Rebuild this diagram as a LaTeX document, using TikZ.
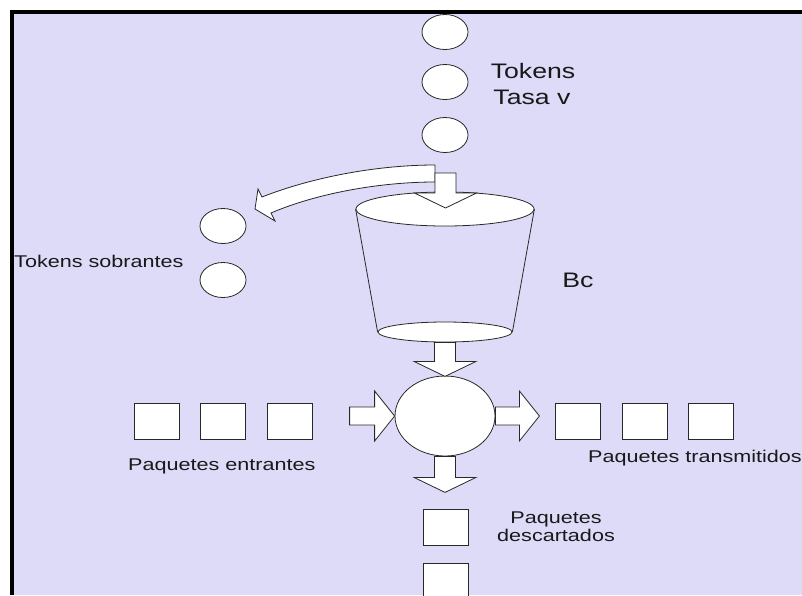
\documentclass[tikz,border=0pt]{standalone}
\usepackage{fontspec}
\setmainfont{Liberation Sans}
\usetikzlibrary{shapes.geometric}
\definecolor{lav}{RGB}{221,219,248}
\definecolor{edge}{RGB}{40,40,40}
\newcommand\wide[1]{\scalebox{1.27}[1]{#1}}

\begin{document}
\begin{tikzpicture}[x=1pt,y=-1pt,
  tok/.style={ellipse,draw=edge,fill=white,line width=0.8pt,minimum width=46pt,minimum height=35pt,inner sep=0pt},
  pkt/.style={rectangle,draw=edge,fill=white,line width=0.8pt,minimum width=45pt,minimum height=36pt,inner sep=0pt},
  big/.style={font=\fontsize{21}{24}\selectfont,inner sep=0pt,text=black!90},
  small/.style={font=\fontsize{17}{18.3}\selectfont,inner sep=0pt,text=black!90},
  blk/.style={draw=edge,fill=white,line width=0.8pt,line join=miter},
  pics/vblock/.style={code={\draw[blk] (-10.5,0) -- (10.5,0) -- (10.5,#1-15) -- (31,#1-15) -- (0,#1) -- (-31,#1-15) -- (-10.5,#1-15) -- cycle;}},
  pics/hblock/.style={code={\draw[blk] (0,-9) -- (#1-20,-9) -- (#1-20,-25) -- (#1,0) -- (#1-20,25) -- (#1-20,9) -- (0,9) -- cycle;}},
]
\useasboundingbox (0,0) rectangle (802,595);
\fill[white] (0,0) rectangle (802,595);
\fill[lav] (12,11.5) rectangle (802,595);
\draw[line width=4pt,black] (12,595) -- (12,11.5) -- (802,11.5);

% incoming tokens
\node[tok] (t1) at (445,32) {};
\node[tok] (t2) at (445,82) {};
\node[tok] (t3) at (445,135) {};
\node[big,anchor=base] (ltok) at (533,78) {\wide{Tokens}};
\node[big,anchor=base] (lrate) at (532,104) {\wide{Tasa v}};

% overflow tokens
\node[tok] (s1) at (223,226) {};
\node[tok] (s2) at (223,280) {};
\node[small,anchor=base west] (lsob) at (14,267) {\wide{Tokens sobrantes}};

% bucket
\node[ellipse,draw=edge,fill=white,line width=0.8pt,minimum width=178pt,minimum height=34pt,inner sep=0pt] (btop) at (445,209) {};
\node[ellipse,draw=edge,fill=white,line width=0.8pt,minimum width=134pt,minimum height=20pt,inner sep=0pt] (bbot) at (445,332) {};
\draw[edge,line width=0.8pt] (btop.west) -- (bbot.west);
\draw[edge,line width=0.8pt] (btop.east) -- (bbot.east);
\node[big,anchor=base] (lbc) at (578,287) {\wide{Bc}};

% overflow arrow and token input arrow
\coordinate (over) at (435,173.5);
\draw[blk] (over) ++(0,-8.5) .. controls (375,165) and (310,178) .. (262,197)
  -- (258,189) -- (255,209) -- (275,221) -- (271,213)
  .. controls (315,194) and (378,182) .. (435,182) -- cycle;
\pic at (445.5,173) {vblock=35};

% decision point
\node[ellipse,draw=edge,fill=white,line width=0.8pt,minimum width=100pt,minimum height=80pt,inner sep=0pt] (hub) at (445,416) {};
\pic at (bbot.south) {vblock=34};
\pic at ([xshift=-45pt]hub.west) {hblock=45};
\pic at (hub.east) {hblock=44};
\pic at (hub.south) {vblock=36};

% incoming packets
\node[pkt] (p1) at (156.5,421) {};
\node[pkt] (p2) at (223,421) {};
\node[pkt] (p3) at (289.5,421) {};
\node[small,anchor=base west] (lin) at (128,470) {\wide{Paquetes entrantes}};

% transmitted packets
\node[pkt] (q1) at (578,421) {};
\node[pkt] (q2) at (644.5,421) {};
\node[pkt] (q3) at (711,421) {};
\node[small,anchor=base west] (lout) at (588,462) {\wide{Paquetes transmitidos}};

% discarded packets
\node[pkt] (d1) at (445.5,527) {};
\node[pkt] (d2) at (445.5,581) {};
\node[small,anchor=base,align=center] (ldrop) at (556,541.7) {\wide{Paquetes}\\\wide{descartados}};
\end{tikzpicture}
\end{document}
